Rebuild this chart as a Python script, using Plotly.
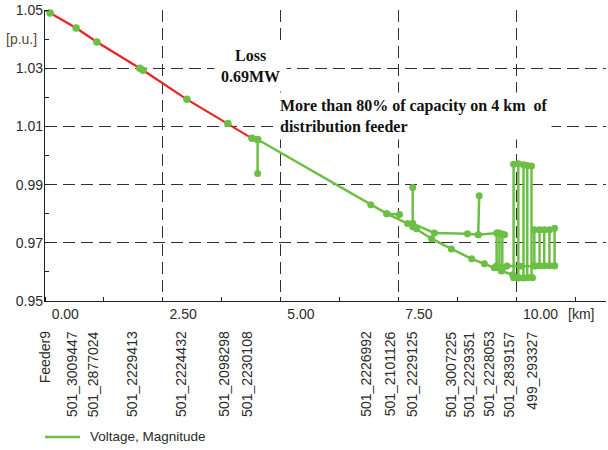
import plotly.graph_objects as go

# ---------------- data ----------------
# main feeder path (km, p.u.)
main_km = [0.00, 0.11, 0.66, 1.10, 2.01, 2.08, 3.01, 3.88, 4.39, 4.51,
           6.91, 7.25, 7.69, 7.80, 7.88, 8.20, 8.62, 9.05, 9.32, 9.53, 9.68, 9.92, 10.34]
main_pu = [1.0500, 1.0490, 1.0438, 1.0390, 1.0300, 1.0293, 1.0193, 1.0110, 1.0059, 1.0055,
           0.9831, 0.9800, 0.9766, 0.9755, 0.9748, 0.9714, 0.9679, 0.9645, 0.9628, 0.9614, 0.9603, 0.9590, 0.9580]
# overloaded (red) section: first n points of main path
red_count = 10

# upper lateral branch
branch_km = [7.80, 8.26, 8.96, 9.19, 9.60, 9.75]
branch_pu = [0.9766, 0.9734, 0.9731, 0.9728, 0.9734, 0.9728]

# short stubs (start km, start pu, end km, end pu)
stub_km0 = [4.51, 7.25, 7.80, 9.19]
stub_pu0 = [1.0055, 0.9800, 0.9766, 0.9728]
stub_km1 = [4.51, 7.52, 7.80, 9.21]
stub_pu1 = [0.9938, 0.9797, 0.9890, 0.9862]

# vertical laterals at the feeder end (km, top pu, bottom pu)
bar_km = [9.58, 9.64, 9.70, 9.94, 10.04, 10.15, 10.23, 10.32, 10.38, 10.49, 10.59, 10.70, 10.81]
bar_top = [0.9734, 0.9734, 0.9730, 0.9970, 0.9972, 0.9968, 0.9966, 0.9964,
           0.9745, 0.9745, 0.9745, 0.9745, 0.9750]
bar_bot = [0.9614, 0.9614, 0.9610, 0.9580, 0.9579, 0.9579, 0.9580, 0.9582,
           0.9621, 0.9621, 0.9621, 0.9621, 0.9621]

# bottom collector line
bottom_km = [9.58, 9.80, 10.10, 10.40, 10.81]
bottom_pu = [0.9621, 0.9620, 0.9619, 0.9620, 0.9621]

# node labels under the x axis
node_names = ["Feeder9", "501_3009447", "501_2877024", "501_2229413", "501_2224432",
              "501_2098298", "501_2230108", "501_2226992", "501_2101126", "501_2229125",
              "501_3007225", "501_2229351", "501_2228053", "501_2839157", "499_293327"]
node_km = [0.00, 0.57, 1.02, 1.86, 2.90, 3.81, 4.30, 6.82, 7.31, 7.78,
           8.62, 9.00, 9.43, 9.85, 10.34]

x_ticks = [0, 2.5, 5.0, 7.5, 10.0]
y_ticks = [0.95, 0.97, 0.99, 1.01, 1.03, 1.05]
series_name = "Voltage, Magnitude"

GREEN = "#6cbf45"
RED = "#ea2320"
TXT = "#2b2b2b"

# ---------------- build green polyline ----------------
gx, gy = [], []
def add(xs, ys):
    gx.extend(xs); gy.extend(ys); gx.append(None); gy.append(None)

add(main_km[red_count - 1:], main_pu[red_count - 1:])
add(branch_km, branch_pu)
for a, b, c, d in zip(stub_km0, stub_pu0, stub_km1, stub_pu1):
    add([a, c], [b, d])
for k, t, b in zip(bar_km, bar_top, bar_bot):
    add([k, k], [t, b])
add(bottom_km, bottom_pu)

fig = go.Figure()
fig.add_trace(go.Scatter(x=main_km[:red_count], y=main_pu[:red_count], mode="lines",
                         line=dict(color=RED, width=2.2), showlegend=False, hoverinfo="skip"))
fig.add_trace(go.Scatter(x=gx, y=gy, mode="lines+markers", name=series_name,
                         line=dict(color=GREEN, width=2.5),
                         marker=dict(color=GREEN, size=7),
                         cliponaxis=False, connectgaps=False, showlegend=False))
fig.add_trace(go.Scatter(x=main_km[1:red_count], y=main_pu[1:red_count], mode="markers",
                         marker=dict(color=GREEN, size=7.5), showlegend=False,
                         cliponaxis=False, hoverinfo="skip"))

grid = dict(showgrid=True, gridcolor="#303030", gridwidth=1.3, griddash="12px,6px")

fig.update_xaxes(range=[0, 11.9], tickvals=x_ticks, tickformat=".2f",
                 ticks="", ticklabelposition="outside right", ticklabelshift=6,
                 showline=True, linecolor="#202020", linewidth=1.3, zeroline=False,
                 tickfont=dict(family="Liberation Sans, Arial", size=14, color=TXT),
                 minor=dict(dtick=1.25, tick0=0, ticks="inside", ticklen=4,
                            tickcolor="#202020", showgrid=False),
                 **grid)
fig.update_yaxes(range=[0.95, 1.05], tickvals=y_ticks, tickformat=".2f",
                 ticks="", ticklabelstandoff=-2,
                 showline=True, linecolor="#202020", linewidth=1.3, zeroline=False,
                 tickfont=dict(family="Liberation Sans, Arial", size=14, color=TXT),
                 minor=dict(dtick=0.01, tick0=0.95, ticks="inside", ticklen=4,
                            tickcolor="#202020", showgrid=False),
                 **grid)

annos = []
for name, k in zip(node_names, node_km):
    annos.append(dict(x=k, xref="x", y=-0.097, yref="paper", text=name, textangle=-90,
                      showarrow=False, xanchor="center", yanchor="top",
                      font=dict(family="Liberation Sans, Arial", size=14, color=TXT)))
annos.append(dict(x=1, xref="paper", y=0.95, yref="y", text="[km]", showarrow=False,
                  xanchor="right", yanchor="top", xshift=-10, yshift=-3,
                  font=dict(family="Liberation Sans, Arial", size=14, color=TXT)))
annos.append(dict(x=0, xref="paper", y=1.04, yref="y", text="[p.u.]", showarrow=False,
                  xanchor="right", yanchor="middle", xshift=-6,
                  font=dict(family="Liberation Sans, Arial", size=14, color="#5a4a3a")))
annos.append(dict(x=4.36, xref="x", y=1.0306, yref="y", text="<b>Loss<br>0.69MW</b>",
                  showarrow=False, xanchor="center", yanchor="middle", bgcolor="white",
                  borderpad=6, align="center",
                  font=dict(family="Liberation Serif, Times New Roman", size=16, color="#111")))
annos.append(dict(x=4.99, xref="x", y=1.0135, yref="y", xshift=-5,
                  text="<b>More than 80% of capacity on 4 km  of<br>distribution feeder</b>",
                  showarrow=False, xanchor="left", yanchor="middle", bgcolor="white",
                  borderpad=4, align="left",
                  font=dict(family="Liberation Serif, Times New Roman", size=16, color="#111")))
# legend entry (line sample + label)
annos.append(dict(x=0.077, xref="paper", y=-0.467, yref="paper", text=series_name,
                  showarrow=False, xanchor="left", yanchor="middle",
                  font=dict(family="Liberation Sans, Arial", size=13.5, color=TXT)))

fig.update_layout(width=608, height=450, margin=dict(l=45, r=2, t=10, b=149),
                  paper_bgcolor="white", plot_bgcolor="white",
                  annotations=annos, showlegend=False,
                  shapes=[dict(type="line", xref="paper", yref="paper",
                               x0=0.0, x1=0.0624, y0=-0.467, y1=-0.467,
                               line=dict(color=GREEN, width=2.5))])

fig.write_html("out.html")
